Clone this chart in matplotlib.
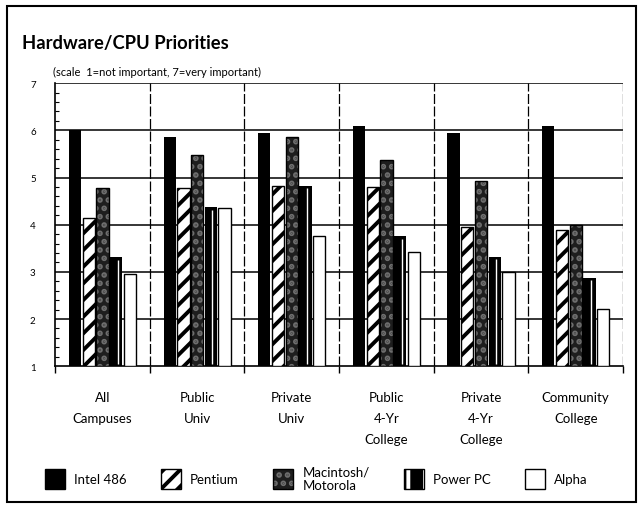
import numpy as np
import matplotlib
matplotlib.use("Agg")
import matplotlib.pyplot as plt
from matplotlib.patches import Patch, Rectangle
from matplotlib.legend_handler import HandlerTuple

plt.rcParams['font.family'] = ['Lato', 'DejaVu Sans']
plt.rcParams['hatch.linewidth'] = 2.8

groups = ["All\nCampuses", "Public\nUniv", "Private\nUniv",
          "Public\n4-Yr\nCollege", "Private\n4-Yr\nCollege", "Community\nCollege"]
series = ["Intel 486", "Pentium", "Macintosh/\nMotorola", "Power PC", "Alpha"]

intel = [6.0, 5.85, 5.95, 6.1, 5.95, 6.1]
pentium = [4.15, 4.78, 4.83, 4.8, 3.95, 3.88]
mac = [4.78, 5.48, 5.85, 5.37, 4.93, 4.0]
powerpc = [3.31, 4.37, 4.83, 3.75, 3.32, 2.88]
alpha = [2.95, 4.36, 3.75, 3.42, 3.0, 2.22]

fig = plt.figure(figsize=(6.41, 5.1), dpi=100)
ax = fig.add_axes([0.086, 0.280, 0.886, 0.555])

x = np.arange(len(groups))
w = 0.13
step = 0.145
base = 1

# Intel 486: solid black
ax.bar(x - 2 * step, np.array(intel) - base, w, bottom=base, color='black', zorder=3)
# Pentium: diagonal stripes
ax.bar(x - step, np.array(pentium) - base, w, bottom=base, facecolor='white',
       edgecolor='black', hatch='//', linewidth=1, zorder=3)
# Macintosh/Motorola: speckled dark grey
ax.bar(x, np.array(mac) - base, w, bottom=base, facecolor='#1e1e1e',
       edgecolor='#6e6e6e', hatch='..', linewidth=0, zorder=3)
ax.bar(x, np.array(mac) - base, w, bottom=base, fill=False,
       edgecolor='black', linewidth=1, zorder=4)
# Power PC: black with white stripe
ax.bar(x + step, np.array(powerpc) - base, w, bottom=base, color='black', zorder=3)
ax.vlines(x + step + 0.015, base + 0.05, np.array(powerpc) - 0.05, color='white',
          linewidth=1, zorder=4)
# Alpha: white
ax.bar(x + 2 * step, np.array(alpha) - base, w, bottom=base, facecolor='white',
       edgecolor='black', linewidth=1, zorder=3)

ax.set_xlim(-0.5, len(groups) - 0.5)
ax.set_ylim(1, 7)
ax.set_yticks(range(1, 8))
ax.set_yticks(np.arange(1, 7.01, 0.2), minor=True)
ax.tick_params(axis='y', which='major', length=0, labelsize=7, pad=14)
ax.tick_params(axis='y', which='minor', length=3, direction='in', width=0.8)
ax.set_xticks(np.arange(len(groups) + 1) - 0.5)
ax.set_xticklabels([])
ax.tick_params(axis='x', which='major', length=5, direction='out', width=1)

for g, lab in enumerate(groups):
    ax.text(g, 0.48, lab, ha='center', va='top', fontsize=9.5,
            linespacing=1.9)

for yv in range(2, 8):
    ax.axhline(yv, color='black', linewidth=1.1, zorder=1)
for xv in np.arange(1, len(groups) + 1) - 0.5:
    ax.axvline(xv, color='black', linewidth=0.9, linestyle=(0, (8, 2)), zorder=1)

ax.spines['top'].set_visible(False)
ax.spines['right'].set_visible(False)
ax.spines['left'].set_linewidth(1.2)
ax.spines['bottom'].set_linewidth(1.2)

fig.text(0.034, 0.915, "Hardware/CPU Priorities", fontsize=13.2, fontweight='bold',
         ha='left', va='center')
fig.text(0.082, 0.857, "(scale  1=not important, 7=very important)", fontsize=8,
         ha='left', va='center')

# outer frame
fig.patches.append(Rectangle((0.011, 0.014), 0.981, 0.972, transform=fig.transFigure,
                             fill=False, edgecolor='black', linewidth=1.5))

handles = [
    Patch(facecolor='black', edgecolor='black'),
    Patch(facecolor='white', edgecolor='black', hatch='//'),
    (Patch(facecolor='#1e1e1e', edgecolor='#6e6e6e', hatch='..', linewidth=0),
     Patch(fill=False, edgecolor='black')),
    (Patch(facecolor='black', edgecolor='white', hatch='|', linewidth=0),
     Patch(fill=False, edgecolor='black')),
    Patch(facecolor='white', edgecolor='black'),
]
fig.legend(handles, series, loc='center left', bbox_to_anchor=(0.052, 0.06), ncol=5,
           frameon=False, fontsize=9.5, handlelength=1.5, handleheight=2.0,
           handletextpad=0.7, columnspacing=2.6,
           handler_map={tuple: HandlerTuple(ndivide=1, pad=0)})

fig.savefig("out.png", dpi=100)
